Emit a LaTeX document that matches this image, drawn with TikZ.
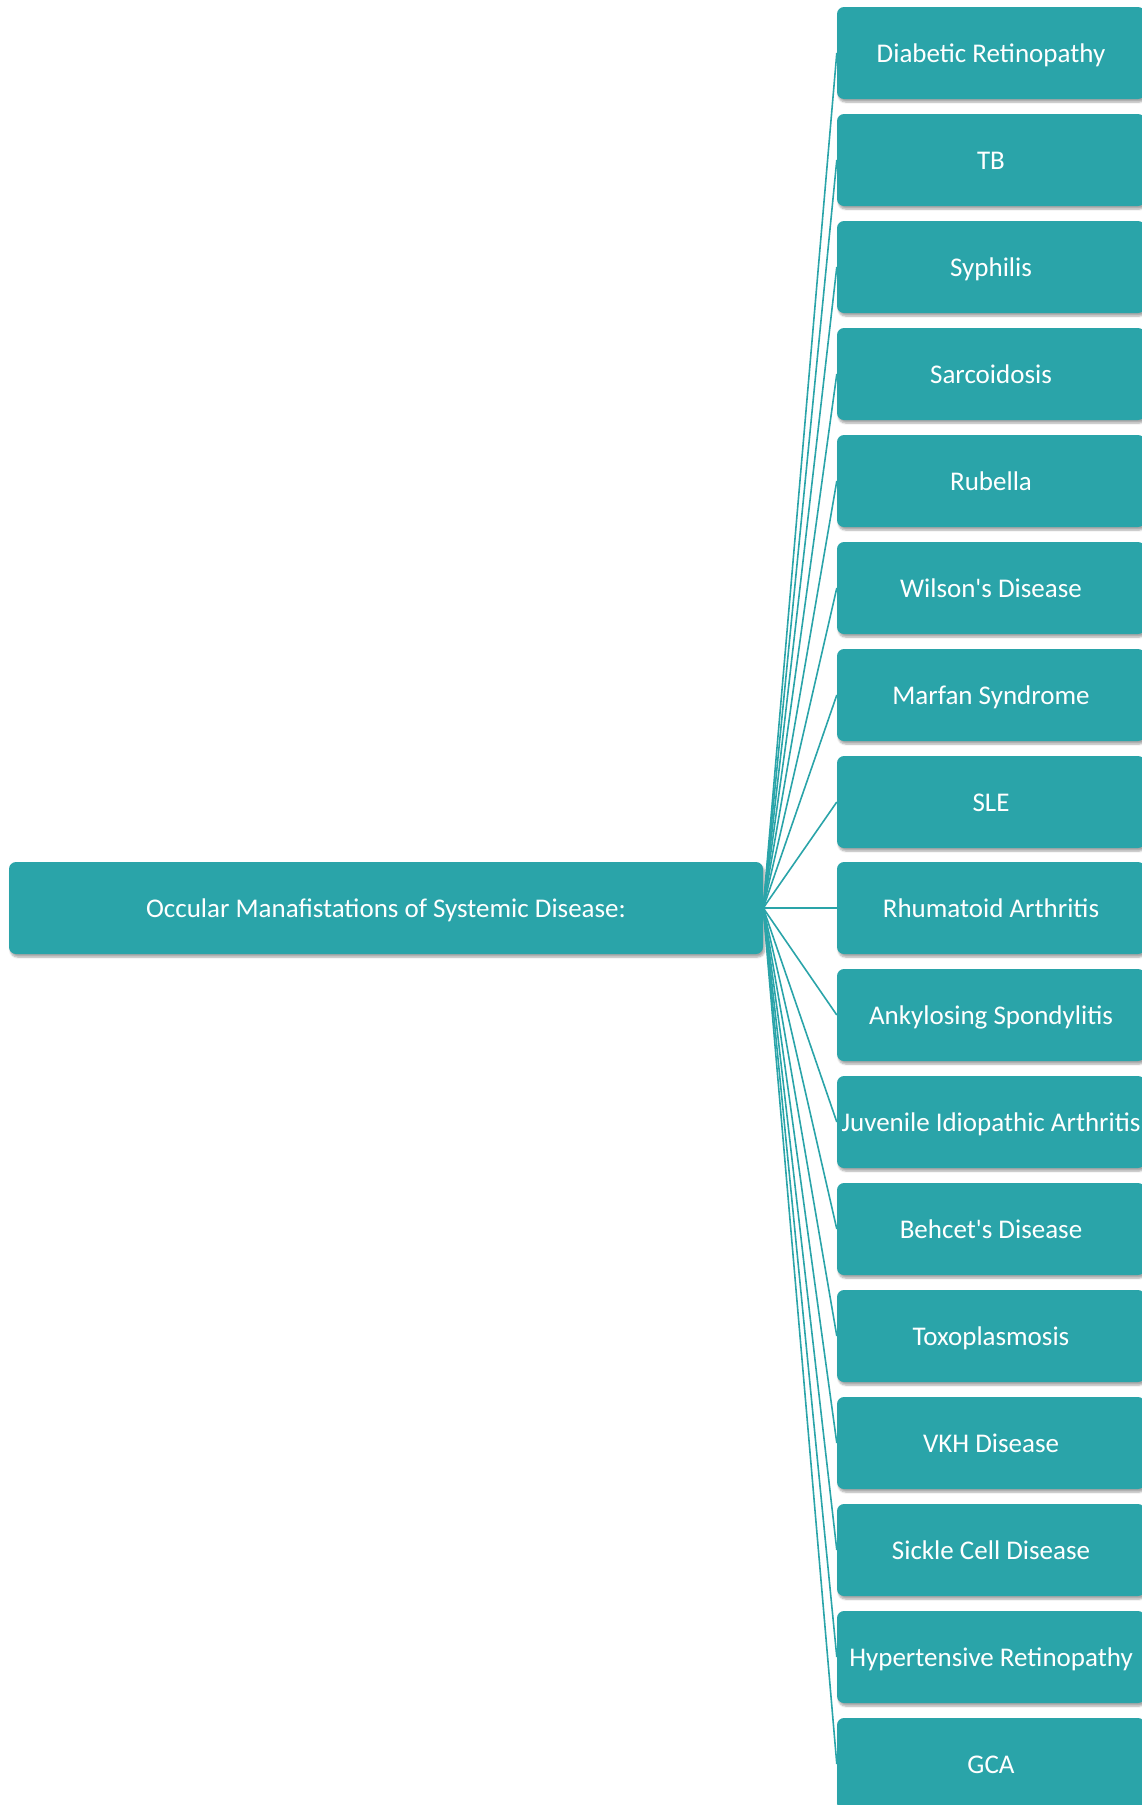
\documentclass[tikz,border=0pt]{standalone}
\usepackage{fontspec}
\setmainfont{Carlito}
\usetikzlibrary{shadows.blur}
\definecolor{boxteal}{HTML}{2AA4A9}
\tikzset{
  disbox/.style={rectangle, rounded corners=7pt, fill=boxteal, text=white,
    inner sep=0pt, minimum height=92pt, text height=18pt, text depth=0pt,
    font=\fontsize{27}{32}\selectfont,
    blur shadow={shadow xshift=1.5pt, shadow yshift=-3pt, shadow blur steps=6, shadow opacity=35}},
  link/.style={draw=boxteal, line width=1.6pt}
}
\begin{document}
\begin{tikzpicture}[x=1pt, y=-1pt]
\useasboundingbox (0,0) rectangle (1141,1805);
\node[disbox, minimum width=754pt] (main) at (386,908){Occular Manafistations of Systemic Disease:};
\node[disbox, minimum width=308pt] (dis0) at (991,53){Diabetic Retinopathy};
\node[disbox, minimum width=308pt] (dis1) at (991,160){TB};
\node[disbox, minimum width=308pt] (dis2) at (991,267){Syphilis};
\node[disbox, minimum width=308pt] (dis3) at (991,374){Sarcoidosis};
\node[disbox, minimum width=308pt] (dis4) at (991,481){Rubella};
\node[disbox, minimum width=308pt] (dis5) at (991,588){Wilson\textquotesingle s Disease};
\node[disbox, minimum width=308pt] (dis6) at (991,695){Marfan Syndrome};
\node[disbox, minimum width=308pt] (dis7) at (991,802){SLE};
\node[disbox, minimum width=308pt] (dis8) at (991,908){Rhumatoid Arthritis};
\node[disbox, minimum width=308pt] (dis9) at (991,1015){Ankylosing Spondylitis};
\node[disbox, minimum width=308pt] (dis10) at (991,1122){Juvenile Idiopathic Arthritis};
\node[disbox, minimum width=308pt] (dis11) at (991,1229){Behcet\textquotesingle s Disease};
\node[disbox, minimum width=308pt] (dis12) at (991,1336){Toxoplasmosis};
\node[disbox, minimum width=308pt] (dis13) at (991,1443){VKH Disease};
\node[disbox, minimum width=308pt] (dis14) at (991,1550){Sickle Cell Disease};
\node[disbox, minimum width=308pt] (dis15) at (991,1657){Hypertensive Retinopathy};
\node[disbox, minimum width=308pt] (dis16) at (991,1764){GCA};
\draw[link](main.east) -- (dis0.west);
\draw[link](main.east) -- (dis1.west);
\draw[link](main.east) -- (dis2.west);
\draw[link](main.east) -- (dis3.west);
\draw[link](main.east) -- (dis4.west);
\draw[link](main.east) -- (dis5.west);
\draw[link](main.east) -- (dis6.west);
\draw[link](main.east) -- (dis7.west);
\draw[link](main.east) -- (dis8.west);
\draw[link](main.east) -- (dis9.west);
\draw[link](main.east) -- (dis10.west);
\draw[link](main.east) -- (dis11.west);
\draw[link](main.east) -- (dis12.west);
\draw[link](main.east) -- (dis13.west);
\draw[link](main.east) -- (dis14.west);
\draw[link](main.east) -- (dis15.west);
\draw[link](main.east) -- (dis16.west);
\end{tikzpicture}
\end{document}
